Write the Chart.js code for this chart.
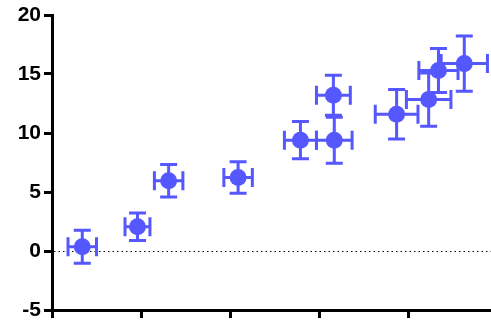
<!DOCTYPE html>
<html>
<head>
<meta charset="utf-8">
<script src="https://cdn.jsdelivr.net/npm/chart.js@4/dist/chart.umd.min.js"></script>
<style>
  html, body { margin: 0; padding: 0; background: #fff; }
  #wrap { width: 491px; height: 321px; }
</style>
</head>
<body>
<div id="wrap"><canvas id="chart" width="491" height="321"></canvas></div>
<script>
// Veriler
const xDegerleri = [0.34, 0.96, 1.31, 2.09, 2.79, 3.17, 3.16, 3.87, 4.23, 4.34, 4.63];
const yDegerleri = [0.36, 2.06, 5.95, 6.23, 9.39, 9.39, 13.2, 11.59, 12.83, 15.3, 15.88];
const xHata = [0.16, 0.14, 0.16, 0.16, 0.18, 0.2, 0.19, 0.24, 0.25, 0.22, 0.26];
const yHata = [1.4, 1.17, 1.37, 1.34, 1.58, 1.95, 1.7, 2.1, 2.25, 1.86, 2.34];
const xTikler = [0, 1, 2, 3, 4];
const yTikler = [-5, 0, 5, 10, 15, 20];

const renk = '#5557FF';

// Hata çubukları eklentisi
const hataCubuklari = {
    id: 'hataCubuklari',
    afterDatasetsDraw(chart) {
        const ctx = chart.ctx;
        const xs = chart.scales.x;
        const ys = chart.scales.y;
        const capY = 8.5;
        const capX = 9.5;
        ctx.save();
        ctx.strokeStyle = renk;
        ctx.lineWidth = 3;
        ctx.lineCap = 'butt';
        xDegerleri.forEach((xv, i) => {
            const yv = yDegerleri[i];
            const px = xs.getPixelForValue(xv);
            const py = ys.getPixelForValue(yv);
            const top = ys.getPixelForValue(yv + yHata[i]);
            const bot = ys.getPixelForValue(yv - yHata[i]);
            const left = xs.getPixelForValue(xv - xHata[i]);
            const right = xs.getPixelForValue(xv + xHata[i]);
            ctx.beginPath();
            ctx.moveTo(px, top); ctx.lineTo(px, bot);
            ctx.moveTo(px - capY, top); ctx.lineTo(px + capY, top);
            ctx.moveTo(px - capY, bot); ctx.lineTo(px + capY, bot);
            ctx.moveTo(left, py); ctx.lineTo(right, py);
            ctx.moveTo(left, py - capX); ctx.lineTo(left, py + capX);
            ctx.moveTo(right, py - capX); ctx.lineTo(right, py + capX);
            ctx.stroke();
        });
        ctx.restore();
    }
};

// Sıfır çizgisi (noktalı)
const sifirCizgisi = {
    id: 'sifirCizgisi',
    beforeDatasetsDraw(chart) {
        const ctx = chart.ctx;
        const area = chart.chartArea;
        const y0 = Math.round(chart.scales.y.getPixelForValue(0)) + 0.5;
        ctx.save();
        ctx.strokeStyle = '#000';
        ctx.lineWidth = 1;
        ctx.setLineDash([1.5, 3]);
        ctx.beginPath();
        ctx.moveTo(area.left + 2, y0);
        ctx.lineTo(area.right, y0);
        ctx.stroke();
        ctx.restore();
    }
};

new Chart(document.getElementById('chart'), {
    type: 'scatter',
    data: {
        datasets: [{
            data: xDegerleri.map((x, i) => ({ x: x, y: yDegerleri[i] })),
            backgroundColor: renk,
            borderColor: renk,
            pointRadius: 8.5,
            pointHoverRadius: 8.5,
            borderWidth: 0
        }]
    },
    options: {
        responsive: false,
        animation: false,
        layout: { autoPadding: false, padding: { top: 15, right: 0, left: 0, bottom: 0 } },
        plugins: {
            legend: { display: false },
            tooltip: { enabled: false }
        },
        scales: {
            x: {
                type: 'linear',
                min: 0,
                max: 4.93,
                afterBuildTicks: (scale) => { scale.ticks = xTikler.map(v => ({ value: v })); },
                afterFit: (scale) => {
                    scale.height = 11;
                    scale.paddingLeft = 0;
                    scale.paddingRight = 0;
                },
                ticks: { display: false },
                grid: {
                    display: true,
                    drawOnChartArea: false,
                    drawTicks: true,
                    tickLength: 8,
                    tickWidth: 3,
                    tickColor: '#000'
                },
                border: { display: true, color: '#000', width: 3 }
            },
            y: {
                min: -5,
                max: 20,
                afterBuildTicks: (scale) => { scale.ticks = yTikler.map(v => ({ value: v })); },
                afterFit: (scale) => {
                    scale.width = 52;
                    scale.paddingTop = 0;
                    scale.paddingBottom = 0;
                },
                ticks: {
                    color: '#000',
                    padding: 3,
                    font: { family: 'Liberation Sans, Arial, sans-serif', size: 21, weight: 'bold' }
                },
                grid: {
                    display: true,
                    drawOnChartArea: false,
                    drawTicks: true,
                    tickLength: 8,
                    tickWidth: 3,
                    tickColor: '#000'
                },
                border: { display: true, color: '#000', width: 3 }
            }
        }
    },
    plugins: [sifirCizgisi, hataCubuklari]
});
</script>
</body>
</html>
